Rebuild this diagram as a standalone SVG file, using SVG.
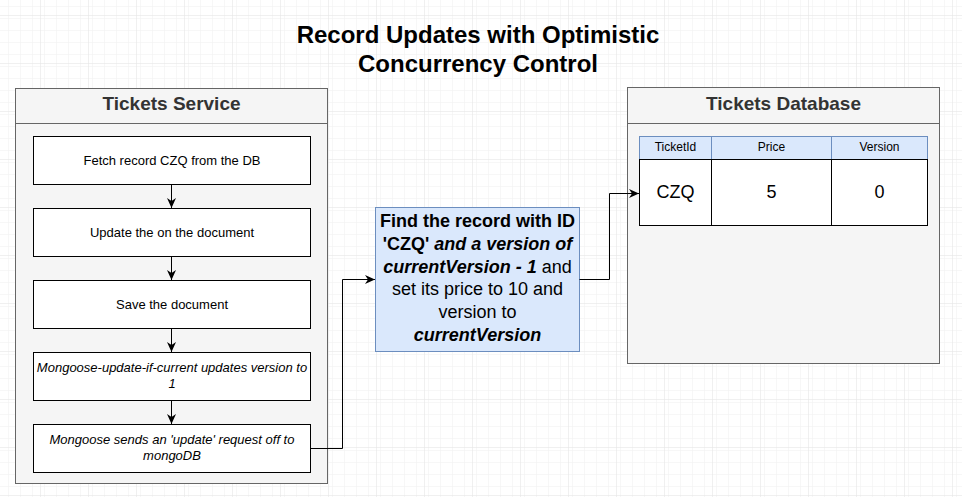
<svg xmlns="http://www.w3.org/2000/svg" width="962" height="497" viewBox="0 0 962 497">
<defs>
<pattern id="minor" width="12" height="12" patternUnits="userSpaceOnUse" x="4" y="3">
<path d="M 12 0 L 0 0 0 12" fill="none" stroke="#f0f0f0" stroke-width="1"/>
</pattern>
<pattern id="major" width="48" height="48" patternUnits="userSpaceOnUse" x="40" y="15">
<rect width="48" height="48" fill="url(#minor)"/>
<path d="M 48 0 L 0 0 0 48" fill="none" stroke="#e2e2e2" stroke-width="1"/>
</pattern>
<marker id="arr" viewBox="0 0 10 10" refX="10" refY="5" markerWidth="10" markerHeight="9" markerUnits="userSpaceOnUse" orient="auto" preserveAspectRatio="none">
<path d="M0,0 L10,5 L0,10 L3,5 Z" fill="#000"/>
</marker>
<style>
.t{font-family:"Liberation Sans",Arial,sans-serif;}
.cont{fill:#f5f5f5;stroke:#666;stroke-width:1;}
.ctitle{font-family:"Liberation Sans",Arial,sans-serif;font-size:19px;font-weight:bold;fill:#333;text-anchor:middle;}
.step{fill:#fff;stroke:#000;stroke-width:1;}
.stxt{font-family:"Liberation Sans",Arial,sans-serif;font-size:13px;fill:#000;text-anchor:middle;}
.it{font-style:italic;}
.conn{fill:none;stroke:#000;stroke-width:1;marker-end:url(#arr);}
.blue{fill:#dae8fc;stroke:#6c8ebf;stroke-width:1;}
</style>
</defs>
<rect x="0" y="0" width="962" height="497" fill="#fff"/>
<rect x="0" y="0" width="962" height="497" fill="url(#major)"/>

<g id="title">
<text class="t" x="478" y="43" font-size="24" font-weight="bold" text-anchor="middle" fill="#000">Record Updates with Optimistic</text>
<text class="t" x="478" y="72" font-size="24" font-weight="bold" text-anchor="middle" fill="#000">Concurrency Control</text>
</g>

<g id="tickets-service">
<rect class="cont" x="15.5" y="88.5" width="312" height="395"/>
<line x1="15.5" y1="123.5" x2="327.5" y2="123.5" stroke="#666"/>
<text class="ctitle" x="171.5" y="110">Tickets Service</text>
</g>

<g id="step-fetch">
<rect class="step" x="33.5" y="136.5" width="277" height="48"/>
<text class="stxt" x="172" y="164.5">Fetch record CZQ from the DB</text>
</g>
<g id="step-update">
<rect class="step" x="33.5" y="208.5" width="277" height="48"/>
<text class="stxt" x="172" y="236.5">Update the on the document</text>
</g>
<g id="step-save">
<rect class="step" x="33.5" y="280.5" width="277" height="48"/>
<text class="stxt" x="172" y="308.5">Save the document</text>
</g>
<g id="step-version">
<rect class="step" x="33.5" y="352.5" width="277" height="48"/>
<text class="stxt it" x="172" y="372">Mongoose-update-if-current updates version to</text>
<text class="stxt it" x="172" y="388">1</text>
</g>
<g id="step-send">
<rect class="step" x="33.5" y="424.5" width="277" height="48"/>
<text class="stxt it" x="172" y="444">Mongoose sends an 'update' request off to</text>
<text class="stxt it" x="172" y="460">mongoDB</text>
</g>

<g id="find-query">
<rect class="blue" x="375.5" y="207.5" width="204" height="144"/>
<text class="t" x="477.5" y="226.5" font-size="18" text-anchor="middle" fill="#000"><tspan font-weight="bold">Find the record with ID</tspan></text>
<text class="t" x="477.5" y="249.5" font-size="18" text-anchor="middle" fill="#000"><tspan font-weight="bold">'CZQ'</tspan><tspan font-weight="bold" font-style="italic"> and a version of</tspan></text>
<text class="t" x="477.5" y="272.5" font-size="18" text-anchor="middle" fill="#000"><tspan font-weight="bold" font-style="italic">currentVersion - 1</tspan><tspan> and</tspan></text>
<text class="t" x="477.5" y="295" font-size="18" text-anchor="middle" fill="#000">set its price to 10 and</text>
<text class="t" x="477.5" y="317.5" font-size="18" text-anchor="middle" fill="#000">version to</text>
<text class="t" x="477.5" y="340.5" font-size="18" text-anchor="middle" fill="#000" font-weight="bold" font-style="italic">currentVersion</text>
</g>

<g id="tickets-database">
<rect class="cont" x="627.5" y="87.5" width="312" height="276"/>
<line x1="627.5" y1="123.5" x2="939.5" y2="123.5" stroke="#666"/>
<text class="ctitle" x="783.5" y="110">Tickets Database</text>
</g>

<g id="tickets-table">
<rect class="blue" x="639.5" y="136.5" width="72" height="23"/>
<rect class="blue" x="711.5" y="136.5" width="120" height="23"/>
<rect class="blue" x="831.5" y="136.5" width="96" height="23"/>
<rect class="step" x="639.5" y="159.5" width="72" height="66"/>
<rect class="step" x="711.5" y="159.5" width="120" height="66"/>
<rect class="step" x="831.5" y="159.5" width="96" height="66"/>
<text class="t" x="675.5" y="151" font-size="12" text-anchor="middle" fill="#000">TicketId</text>
<text class="t" x="771.5" y="151" font-size="12" text-anchor="middle" fill="#000">Price</text>
<text class="t" x="879.5" y="151" font-size="12" text-anchor="middle" fill="#000">Version</text>
<text class="t" x="675.5" y="197.5" font-size="18" text-anchor="middle" fill="#000">CZQ</text>
<text class="t" x="771.5" y="197.5" font-size="18" text-anchor="middle" fill="#000">5</text>
<text class="t" x="879.5" y="197.5" font-size="18" text-anchor="middle" fill="#000">0</text>
</g>

<g id="connectors">
<path class="conn" d="M171.5,184.5 L171.5,208"/>
<path class="conn" d="M171.5,256.5 L171.5,280"/>
<path class="conn" d="M171.5,328.5 L171.5,352"/>
<path class="conn" d="M171.5,400.5 L171.5,424"/>
<path class="conn" d="M310.5,448.5 L342.5,448.5 L342.5,279.5 L375,279.5"/>
<path class="conn" d="M579.5,279.5 L609.5,279.5 L609.5,193.5 L639,193.5"/>
</g>
</svg>
